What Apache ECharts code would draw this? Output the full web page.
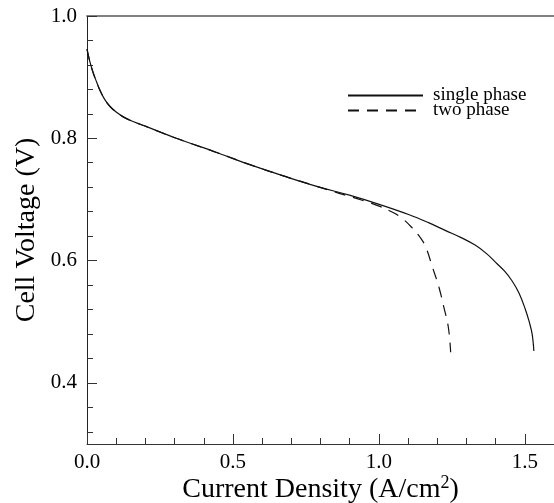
<!DOCTYPE html>
<html>
<head>
<meta charset="utf-8">
<script src="https://cdn.jsdelivr.net/npm/echarts@6/dist/echarts.min.js"></script>
<style>html,body{margin:0;padding:0;background:#fff;}#chart{width:554px;height:503px;}</style>
</head>
<body>
<div id="chart"></div>
<script>
// Data
const seriesNames = ['single phase', 'two phase'];
const singlePhase = [
  [0, 0.946], [0.01, 0.925], [0.022, 0.906], [0.033, 0.892], [0.044, 0.879], [0.06, 0.864],
  [0.079, 0.852], [0.1, 0.843], [0.124, 0.835], [0.16, 0.827], [0.204, 0.819], [0.306, 0.800],
  [0.449, 0.776], [0.563, 0.756], [0.676, 0.738], [0.79, 0.721], [0.899, 0.707], [1.001, 0.692],
  [1.104, 0.675], [1.17, 0.662], [1.229, 0.649], [1.28, 0.638], [1.331, 0.625], [1.37, 0.611],
  [1.400, 0.597], [1.43, 0.583], [1.456, 0.567], [1.48, 0.547], [1.502, 0.520], [1.515, 0.500],
  [1.525, 0.480], [1.531, 0.452]
];
const twoPhase = [
  [0, 0.946], [0.01, 0.925], [0.022, 0.906], [0.033, 0.892], [0.044, 0.879], [0.06, 0.864],
  [0.079, 0.852], [0.1, 0.843], [0.124, 0.835], [0.16, 0.827], [0.204, 0.819], [0.306, 0.800],
  [0.449, 0.776], [0.563, 0.756], [0.676, 0.738], [0.79, 0.721], [0.864, 0.710], [0.94, 0.699],
  [1.001, 0.689], [1.047, 0.679], [1.08, 0.669], [1.115, 0.653], [1.140, 0.639], [1.160, 0.623],
  [1.183, 0.590], [1.206, 0.556], [1.223, 0.523], [1.238, 0.491], [1.246, 0.450]
];
const xMajorTicks = [0, 0.5, 1.0, 1.5];
const xMinorTicks = [0.1, 0.2, 0.3, 0.4, 0.6, 0.7, 0.8, 0.9, 1.1, 1.2, 1.3, 1.4];
const yMajorTicks = [0.4, 0.6, 0.8, 1.0];
const yMinorTicks = [0.32, 0.36, 0.44, 0.48, 0.52, 0.56, 0.64, 0.68, 0.72, 0.76, 0.84, 0.88, 0.92, 0.96];
const xTitle = 'Current Density (A/cm{sup|2})';
const yTitle = 'Cell Voltage (V)';

const FONT = 'Liberation Serif';
const chart = echarts.init(document.getElementById('chart'), null, {renderer: 'canvas'});
const X_MIN = 0, X_MAX = 1.6, Y_MIN = 0.3, Y_MAX = 1.0;

chart.setOption({
  animation: false,
  backgroundColor: '#fff',
  textStyle: {fontFamily: FONT},
  grid: {left: 87, top: 16, right: 0, bottom: 59, containLabel: false, outerBoundsMode: 'none'},
  legend: {
    orient: 'vertical',
    left: 347,
    top: 86,
    padding: 0,
    itemWidth: 75,
    itemHeight: 10,
    itemGap: -4,
    itemStyle: {opacity: 0},
    data: seriesNames,
    textStyle: {fontFamily: FONT, fontSize: 19, color: '#000', padding: [0, 0, 0, 5]}
  },
  xAxis: [
    {
      type: 'value', min: X_MIN, max: X_MAX, position: 'bottom',
      axisLine: {show: true, onZero: false, lineStyle: {color: '#333', width: 1}},
      axisTick: {show: true, inside: true, length: 10, customValues: xMajorTicks, lineStyle: {color: '#333'}},
      axisLabel: {show: true, customValues: xMajorTicks, margin: 8, fontFamily: FONT, fontSize: 21, color: '#000',
        formatter: v => v.toFixed(1)},
      splitLine: {show: false},
      name: xTitle, nameLocation: 'middle', nameGap: 30, nameMoveOverlap: false,
      nameTextStyle: {fontFamily: FONT, fontSize: 28, color: '#000',
        rich: {sup: {fontFamily: FONT, fontSize: 18, color: '#000', verticalAlign: 'top', padding: [0, 0, 13, 0]}}}
    },
    {
      type: 'value', min: X_MIN, max: X_MAX, position: 'bottom',
      axisLine: {show: false, onZero: false},
      axisTick: {show: true, inside: true, length: 6, customValues: xMinorTicks, lineStyle: {color: '#333'}},
      axisLabel: {show: false},
      splitLine: {show: false}
    },
    {
      type: 'value', min: X_MIN, max: X_MAX, position: 'top',
      axisLine: {show: true, onZero: false, lineStyle: {color: '#808080', width: 2}},
      axisTick: {show: false},
      axisLabel: {show: false},
      splitLine: {show: false}
    }
  ],
  yAxis: [
    {
      type: 'value', min: Y_MIN, max: Y_MAX, position: 'left',
      axisLine: {show: true, onZero: false, lineStyle: {color: '#222', width: 1}},
      axisTick: {show: true, inside: true, length: 10, customValues: yMajorTicks, lineStyle: {color: '#333'}},
      axisLabel: {show: true, customValues: yMajorTicks, margin: 10, fontFamily: FONT, fontSize: 21, color: '#000',
        formatter: v => v.toFixed(1)},
      splitLine: {show: false},
      name: yTitle, nameLocation: 'middle', nameGap: 46, nameMoveOverlap: false,
      nameTextStyle: {fontFamily: FONT, fontSize: 28, color: '#000'}
    },
    {
      type: 'value', min: Y_MIN, max: Y_MAX, position: 'left',
      axisLine: {show: false, onZero: false},
      axisTick: {show: true, inside: true, length: 6, customValues: yMinorTicks, lineStyle: {color: '#333'}},
      axisLabel: {show: false},
      splitLine: {show: false}
    }
  ],
  series: [
    {
      name: seriesNames[0], type: 'line', xAxisIndex: 0, yAxisIndex: 0,
      data: singlePhase, smooth: 0.4, symbol: 'none', showSymbol: false,
      lineStyle: {color: '#111', width: 1.2, type: 'solid'},
      itemStyle: {color: '#111'}
    },
    {
      name: seriesNames[1], type: 'line', xAxisIndex: 0, yAxisIndex: 0,
      data: twoPhase, smooth: 0.4, symbol: 'none', showSymbol: false,
      lineStyle: {color: '#111', width: 1.2, type: [11, 8]},
      itemStyle: {color: '#111'}
    }
  ]
});
</script>
</body>
</html>
